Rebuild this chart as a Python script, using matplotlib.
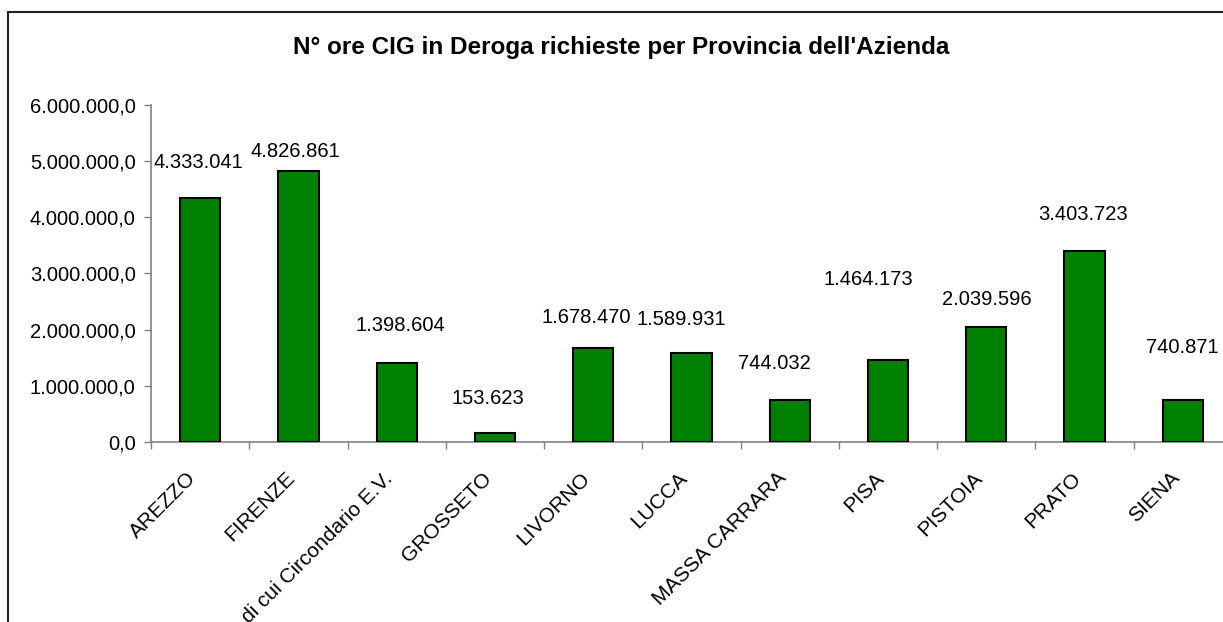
import matplotlib
matplotlib.use("Agg")
import matplotlib.pyplot as plt
from matplotlib.patches import Rectangle

plt.rcParams['font.family'] = ['Liberation Sans', 'DejaVu Sans']

# data
province = ["AREZZO", "FIRENZE", "di cui Circondario E.V.", "GROSSETO",
            "LIVORNO", "LUCCA", "MASSA CARRARA", "PISA", "PISTOIA",
            "PRATO", "SIENA"]
ore_cig = [4333041, 4826861, 1398604, 153623, 1678470, 1589931,
           744032, 1464173, 2039596, 3403723, 740871]
yticks = [0, 1000000, 2000000, 3000000, 4000000, 5000000, 6000000]

# label placement (pixel offsets from bar top), as in the original excel chart
label_dx = [-2, -3, 4, -7, -7, -10, -15, -20, 0, -2, -1]
label_dy = [36, 19, 38, 35, 30, 33, 37, 80, 28, 36, 53]


def it_int(v):
    return f"{v:,}".replace(",", ".")


def it_dec(v):
    s = f"{v:,.1f}"
    return s.replace(",", "X").replace(".", ",").replace("X", ".")


fig = plt.figure(figsize=(12.23, 6.22), dpi=100)
fig.patches.append(Rectangle((8 / 1223, -0.1), 1.2, 1.1 - 12 / 622,
                             transform=fig.transFigure, fill=False,
                             edgecolor="#222222", linewidth=1.5))

ax = fig.add_axes([151 / 1223, 1 - 442 / 622, 1081 / 1223, 337.3 / 622])

x = list(range(len(province)))
ax.bar(x, ore_cig, width=0.41, color="#008000", edgecolor="black",
       linewidth=1.5, zorder=3)

for i, v in enumerate(ore_cig):
    ax.annotate(it_int(v), (i, v), xytext=(label_dx[i], label_dy[i]),
                textcoords="offset pixels", ha="center", va="center",
                fontsize=14.5)

ax.set_xlim(-0.5, len(province) - 0.5)
ax.set_ylim(0, 6000000)
ax.set_yticks(yticks)
ax.set_yticklabels([it_dec(v) for v in yticks], fontsize=14.5)

# ticks at category boundaries, labels at centres
ax.set_xticks([i - 0.5 for i in range(len(province) + 1)])
ax.set_xticklabels([])
ax.set_xticks(x, minor=True)
ax.set_xticklabels(province, minor=True, rotation=45, ha="right", va="top",
                   fontsize=15)
ax.tick_params(axis="x", which="minor", length=0, pad=19)
ax.tick_params(axis="both", which="major", length=5, color="#808080",
               width=1)
ax.tick_params(axis="y", pad=6)

for side in ("top", "right"):
    ax.spines[side].set_visible(False)
for side in ("left", "bottom"):
    ax.spines[side].set_color("#808080")
    ax.spines[side].set_linewidth(1.2)

fig.text(621 / 1223, 1 - 54 / 622,
         "N° ore CIG in Deroga richieste per Provincia dell'Azienda",
         ha="center", va="baseline", fontsize=17.5, fontweight="bold")

fig.savefig("out.png", dpi=100)
